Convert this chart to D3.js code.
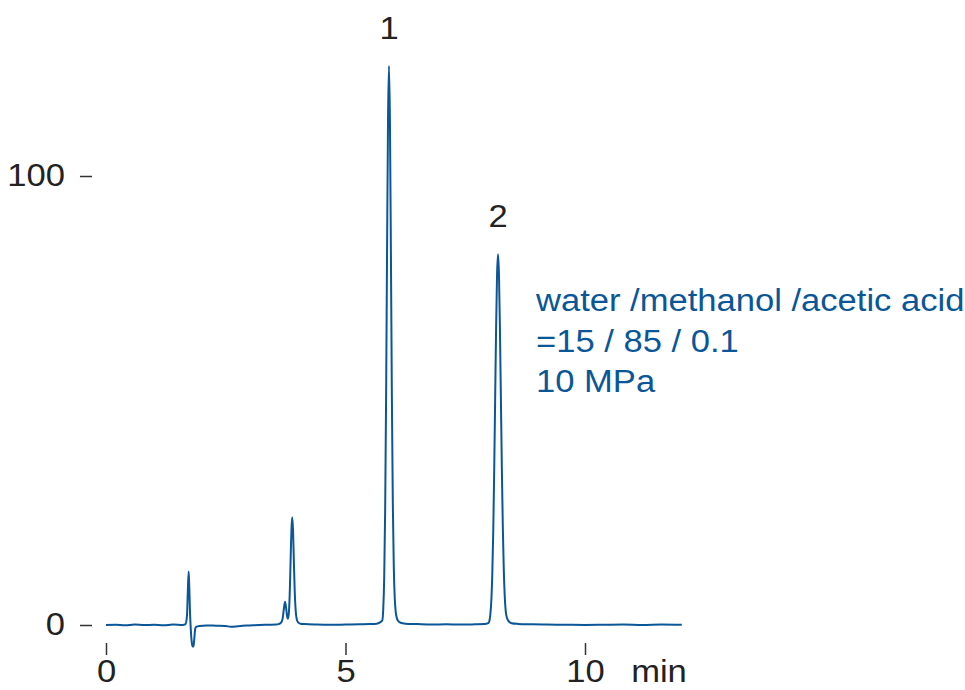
<!DOCTYPE html>
<html>
<head>
<meta charset="utf-8">
<script src="https://cdn.jsdelivr.net/npm/d3@7"></script>
<style>
  html, body { margin: 0; padding: 0; background: #fff; }
  svg { display: block; font-family: "Liberation Sans", Arial, Helvetica, sans-serif; }
</style>
</head>
<body>
<svg id="chart" width="965" height="690"></svg>
<script>
// ---- data (time in min, detector signal) ----
const traceTime = [
  0.00, 0.20, 0.40, 0.60, 0.80, 1.00, 1.20, 1.40, 1.60, 1.66, 1.69, 1.71, 1.726, 1.74, 1.755, 1.77,
  1.79, 1.81, 1.825, 1.84, 1.86, 1.88, 1.95, 2.10, 2.30, 2.50, 2.60, 2.70, 2.80, 3.00, 3.20, 3.40,
  3.55, 3.60, 3.66, 3.69, 3.71, 3.737, 3.76, 3.78, 3.80, 3.82, 3.84, 3.86, 3.875, 3.889, 3.905, 3.92,
  3.94, 3.96, 3.98, 4.01, 4.06, 4.15, 4.40, 4.70, 5.00, 5.30, 5.50, 5.65, 5.72, 5.768, 5.788, 5.808,
  5.828, 5.848, 5.868, 5.888, 5.908, 5.928, 5.948, 5.968, 5.988, 6.008, 6.028, 6.048, 6.07, 6.10,
  6.15, 6.25, 6.50, 6.80, 7.10, 7.40, 7.70, 7.90, 7.98, 8.004, 8.024, 8.044, 8.064, 8.084, 8.104,
  8.124, 8.144, 8.164, 8.184, 8.204, 8.224, 8.244, 8.264, 8.284, 8.304, 8.324, 8.344, 8.37, 8.41,
  8.47, 8.60, 8.90, 9.20, 9.60, 10.00, 10.40, 10.80, 11.20, 11.60, 12.02
];
const traceSignal = [
  0.0, 0.05, -0.05, 0.1, 0.0, 0.05, -0.05, 0.1, 0.0, 0.2, 2.0, 8.0, 11.9, 8.0, 2.5, -1.0,
  -3.8, -4.8, -4.8, -3.5, -1.0, -0.4, -0.2, -0.1, -0.15, -0.2, -0.4, -0.35, -0.2, -0.1, 0.0, 0.05,
  0.1, 0.2, 0.6, 1.6, 3.3, 5.2, 3.8, 2.0, 1.4, 3.0, 8.5, 17, 22, 24, 21, 15,
  7.5, 3.2, 1.4, 0.6, 0.3, 0.2, 0.1, 0.05, 0.1, 0.15, 0.2, 0.3, 0.6, 1.0, 3.6, 10.5,
  25.6, 51.2, 83.9, 112.8, 124.5, 112.0, 83.0, 51.0, 27.0, 13.0, 6.0, 3.0, 1.6, 0.9,
  0.5, 0.3, 0.2, 0.1, 0.15, 0.1, 0.15, 0.2, 0.4, 0.9, 2.4, 5.4, 11.2, 20.6, 34.0,
  50.1, 66.1, 78.1, 82.6, 78.0, 66.0, 50.5, 35.0, 22.0, 12.5, 6.5, 3.2, 1.6, 0.8,
  0.4, 0.25, 0.15, 0.1, 0.05, 0.0, 0.05, 0.1, 0.0, 0.1, 0.05
];
const peakLabels = ["1", "2"];
const peakTimes = [5.908, 8.184];
const peakHeights = [124.5, 82.6];
const xTicks = [0, 5, 10];
const yTicks = [0, 100];
const xUnit = "min";
const conditions = ["water /methanol /acetic acid", "=15 / 85 / 0.1", "10 MPa"];

// ---- drawing ----
const blue = "#0a5697";
const ink = "#222";
const fontSize = "31px";
const stretch = "scale(1.115,1)";
const svg = d3.select("#chart");

const x = d3.scaleLinear().domain([0, 10]).range([106, 585]);
const y = d3.scaleLinear().domain([0, 100]).range([625, 176]);

const pts = traceTime.map((t, i) => [t, traceSignal[i]]);

const line = d3.line()
  .x(d => x(d[0]))
  .y(d => y(d[1]))
  .curve(d3.curveMonotoneX);

svg.append("path")
  .datum(pts)
  .attr("d", line)
  .attr("fill", "none")
  .attr("stroke", blue)
  .attr("stroke-width", 2)
  .attr("stroke-linejoin", "round");

// x axis (detached ticks)
const xAxis = d3.axisBottom(x).tickValues(xTicks).tickSize(12).tickPadding(11).tickFormat(d3.format("d"));
const gx = svg.append("g").attr("transform", "translate(0,643)").call(xAxis);
gx.select(".domain").remove();
gx.selectAll(".tick line").attr("stroke", "#333").attr("stroke-width", 1.5);
gx.selectAll(".tick text")
  .attr("fill", ink)
  .attr("y", 0)
  .attr("dy", null)
  .attr("transform", "translate(0,39) " + stretch)
  .style("font-size", fontSize)
  .style("font-family", "'Liberation Sans', Arial, sans-serif");

svg.append("text")
  .attr("transform", "translate(659,682) " + stretch)
  .attr("text-anchor", "middle")
  .attr("fill", ink)
  .style("font-size", fontSize)
  .text(xUnit);

// y axis (dashes)
const yAxis = d3.axisLeft(y).tickValues(yTicks).tickSize(12).tickPadding(15).tickFormat(d3.format("d"));
const gy = svg.append("g").attr("transform", "translate(92,0)").call(yAxis);
gy.select(".domain").remove();
gy.selectAll(".tick line").attr("stroke", "#333").attr("stroke-width", 1.5);
gy.selectAll(".tick text")
  .attr("fill", ink)
  .attr("x", 0)
  .attr("transform", "translate(-27,0) " + stretch)
  .style("font-size", fontSize)
  .style("font-family", "'Liberation Sans', Arial, sans-serif");

// peak labels
svg.selectAll("text.peak")
  .data(peakLabels)
  .join("text")
  .attr("class", "peak")
  .attr("transform", (d, i) => `translate(${x(peakTimes[i])},${y(peakHeights[i]) - 27}) ${stretch}`)
  .attr("text-anchor", "middle")
  .attr("fill", ink)
  .style("font-size", fontSize)
  .text(d => d);

// conditions annotation
svg.selectAll("text.cond")
  .data(conditions)
  .join("text")
  .attr("class", "cond")
  .attr("transform", (d, i) => `translate(536,${311 + i * 40.5}) ${stretch}`)
  .attr("fill", blue)
  .style("font-size", fontSize)
  .text(d => d);
</script>
</body>
</html>
